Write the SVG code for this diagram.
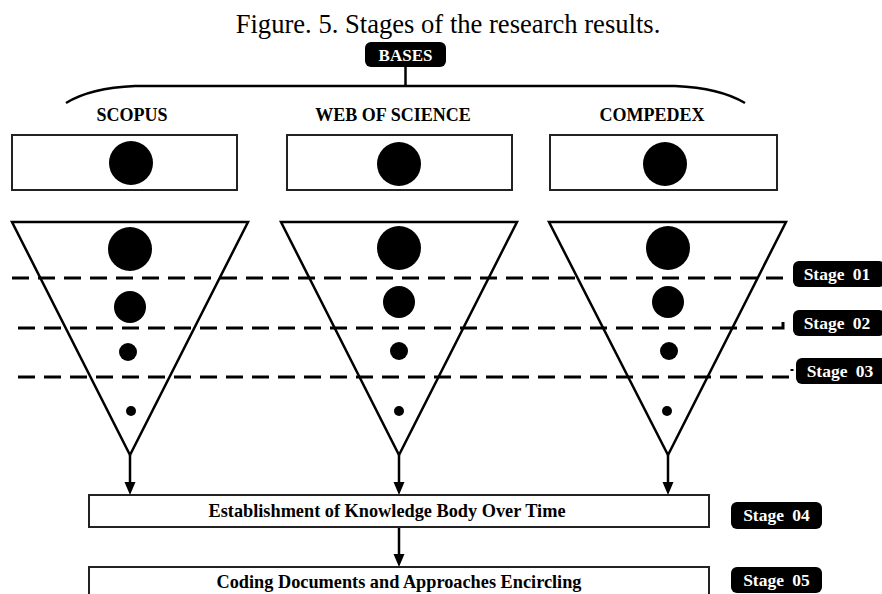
<svg xmlns="http://www.w3.org/2000/svg" width="882" height="594" viewBox="0 0 882 594">
<style>
.t{font-family:"Liberation Serif","Times New Roman",serif;}
.b{font-family:"Liberation Serif","Times New Roman",serif;font-weight:bold;}
.w{fill:#fff;}
.box{fill:#fff;stroke:#222;stroke-width:2;}
.tri{fill:none;stroke:#000;stroke-width:2.5;stroke-linejoin:miter;}
.dash{fill:none;stroke:#000;stroke-width:3;stroke-dasharray:17 9;}
.ln{fill:none;stroke:#000;stroke-width:2.5;}
.tag{fill:#000;}
</style>
<rect width="882" height="594" fill="#fff"/>
<text class="t" x="448" y="33" font-size="26.6" text-anchor="middle">Figure. 5. Stages of the research results.</text>

<g id="bases">
<rect x="365" y="42" width="81" height="25" rx="6" class="tag"/>
<text class="b w" x="405.5" y="60.5" font-size="17" text-anchor="middle">BASES</text>
</g>

<g id="connectors">
<path class="ln" d="M405.5,67 V86"/>
<path class="ln" d="M66,103 Q90,88 135,86 L675,86 Q720,88 745,103"/>
<path class="dash" d="M12,278 H783 V271"/>
<path class="dash" d="M18,328 H783 V322"/>
<path class="dash" d="M18,377 H792 V369"/>
<path class="ln" d="M130,455 V483"/>
<path d="M124.5,482 L135.5,482 L130,495 Z"/>
<path class="ln" d="M399,455 V483"/>
<path d="M393.5,482 L404.5,482 L399,495 Z"/>
<path class="ln" d="M668,455 V483"/>
<path d="M662.5,482 L673.5,482 L668,495 Z"/>
<path class="ln" d="M399,527 V555"/>
<path d="M393.5,554 L404.5,554 L399,567 Z"/>
</g>

<g id="scopus">
<text class="b" x="132" y="121" font-size="18" text-anchor="middle">SCOPUS</text>
<rect x="12" y="135" width="225" height="55" class="box"/>
<circle cx="131" cy="163" r="22"/>
</g>
<g id="wos">
<text class="b" x="393" y="121" font-size="18" text-anchor="middle">WEB OF SCIENCE</text>
<rect x="287" y="135" width="225" height="55" class="box"/>
<circle cx="399" cy="164" r="22"/>
</g>
<g id="compedex">
<text class="b" x="652" y="121" font-size="18" text-anchor="middle">COMPEDEX</text>
<rect x="550" y="135" width="227" height="55" class="box"/>
<circle cx="665" cy="164" r="22"/>
</g>

<g id="funnel-scopus">
<path class="tri" d="M12,222 L248,222 L130,455 Z"/>
<circle cx="130" cy="249" r="22"/>
<circle cx="130" cy="307" r="16"/>
<circle cx="128" cy="352" r="9"/>
<circle cx="131" cy="411" r="5"/>
</g>
<g id="funnel-wos">
<path class="tri" d="M281,222 L517,222 L399,455 Z"/>
<circle cx="399" cy="248" r="22"/>
<circle cx="399" cy="302" r="16"/>
<circle cx="399" cy="351" r="9"/>
<circle cx="399" cy="411" r="5"/>
</g>
<g id="funnel-compedex">
<path class="tri" d="M549,222 L786,222 L668,455 Z"/>
<circle cx="668" cy="248" r="22"/>
<circle cx="668" cy="302" r="16"/>
<circle cx="669" cy="351" r="9"/>
<circle cx="667" cy="411" r="5"/>
</g>

<g id="stage01">
<rect x="793" y="261" width="92" height="26" rx="6" class="tag"/>
<text class="b w" x="837" y="280" font-size="17.5" text-anchor="middle" word-spacing="4">Stage 01</text>
</g>
<g id="stage02">
<rect x="793" y="310" width="92" height="26" rx="6" class="tag"/>
<text class="b w" x="837" y="329" font-size="17.5" text-anchor="middle" word-spacing="4">Stage 02</text>
</g>
<g id="stage03">
<rect x="796" y="358" width="92" height="26" rx="6" class="tag"/>
<text class="b w" x="840" y="377" font-size="17.5" text-anchor="middle" word-spacing="4">Stage 03</text>
</g>

<g id="establishment">
<rect x="89" y="495" width="620" height="32" class="box"/>
<text class="b" x="387" y="517" font-size="18.3" text-anchor="middle">Establishment of Knowledge Body Over Time</text>
</g>
<g id="stage04">
<rect x="731" y="502" width="91" height="27" rx="6" class="tag"/>
<text class="b w" x="776.5" y="521" font-size="17.5" text-anchor="middle" word-spacing="4">Stage 04</text>
</g>
<g id="coding">
<rect x="89" y="567" width="620" height="40" class="box"/>
<text class="b" x="399" y="588" font-size="18.3" text-anchor="middle">Coding Documents and Approaches Encircling</text>
</g>
<g id="stage05">
<rect x="731" y="567" width="91" height="26" rx="6" class="tag"/>
<text class="b w" x="776.5" y="586" font-size="17.5" text-anchor="middle" word-spacing="4">Stage 05</text>
</g>
</svg>
